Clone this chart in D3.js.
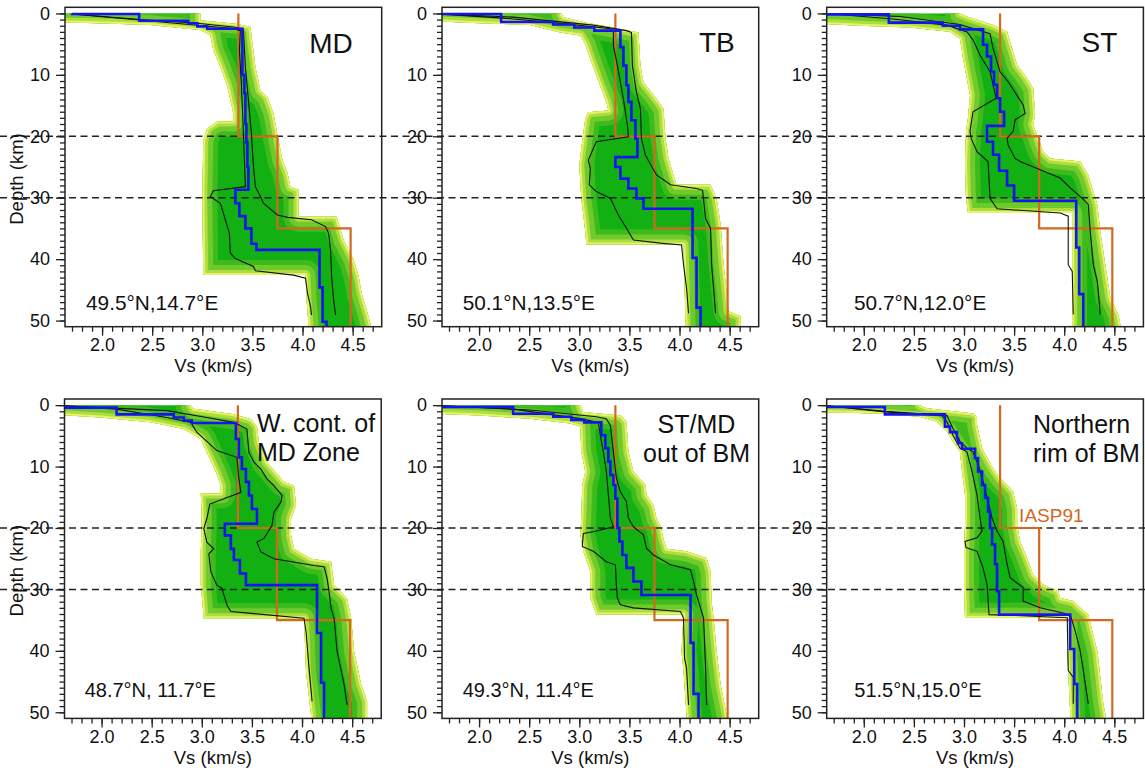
<!DOCTYPE html>
<html><head><meta charset="utf-8">
<script src="https://cdn.jsdelivr.net/npm/d3@7"></script>
<style>
body{margin:0;background:#fff}
svg{display:block}
text{font-family:"Liberation Sans",Arial,Helvetica,sans-serif;fill:#111}
</style>
</head><body>
<svg id="chart" width="1145" height="776"></svg>
<script>
// ---------------- DATA ----------------
// Panel names / titles
const panelTitles = [["MD"],["TB"],["ST"],["W. cont. of","MD Zone"],["ST/MD","out of BM"],["Northern","rim of BM"]];
const panelCoords = ["49.5°N,14.7°E","50.1°N,13.5°E","50.7°N,12.0°E","48.7°N, 11.7°E","49.3°N, 11.4°E","51.5°N,15.0°E"];

// Axis ticks
const vsMajorTicks = [2.0,2.5,3.0,3.5,4.0,4.5];
const vsMinorTicks = [1.7,1.8,1.9,2.0,2.1,2.2,2.3,2.4,2.5,2.6,2.7,2.8,2.9,3.0,3.1,3.2,3.3,3.4,3.5,3.6,3.7,3.8,3.9,4.0,4.1,4.2,4.3,4.4,4.5,4.6,4.7];
const depthMajorTicks = [0,10,20,30,40,50];
const depthMinorTicks = d3.range(0,51,1);
const markerDepths = [20,30];

// IASP91 reference model: [top depth, Vs]
const iasp91 = [[0,3.36],[20,3.75],[35,4.48]];

// Best model (blue), layers: [top depth km, Vs km/s]
const bestMD = [[0,1.70],[0.1,2.37],[1.2,2.86],[1.6,2.95],[2.1,3.05],[2.5,3.40],[10,3.42],[13,3.43],[18,3.44],[21,3.45],[25,3.46],[28.7,3.33],[30.9,3.37],[33,3.43],[35,3.49],[37.5,3.54],[38.5,4.17],[44.6,4.20],[50.2,4.24]];
const bestTB = [[0,1.63],[0.1,2.22],[1.4,2.74],[1.8,2.95],[2.3,3.15],[2.8,3.41],[5.5,3.44],[8.5,3.47],[11.7,3.49],[14.4,3.52],[17.4,3.56],[20.4,3.58],[23.4,3.36],[25,3.41],[26.9,3.49],[28.5,3.57],[30.1,3.64],[31.8,4.13],[39.8,4.17],[47.9,4.21]];
const bestST = [[0,1.63],[0.15,2.25],[1.5,2.79],[2.0,2.96],[2.6,3.19],[5.1,3.23],[7.0,3.27],[9.5,3.30],[11.6,3.33],[13.8,3.36],[16.0,3.40],[18.3,3.23],[20.9,3.29],[23.0,3.35],[25.6,3.43],[28.0,3.50],[30.5,4.12],[38.1,4.15],[45.7,4.19]];
const bestWC = [[0,1.63],[0.4,2.15],[1.5,2.72],[2.0,2.82],[2.5,2.90],[2.9,3.34],[5.5,3.37],[8.5,3.40],[10.4,3.44],[12.5,3.47],[14.7,3.50],[16.9,3.55],[19.3,3.23],[21.2,3.29],[23.4,3.32],[25.2,3.38],[27.4,3.44],[29.3,4.15],[37.1,4.19],[45.2,4.22]];
const bestSM = [[0,1.63],[0.3,2.34],[1.4,2.74],[1.9,2.92],[2.4,3.05],[2.8,3.22],[4.9,3.26],[7.0,3.29],[9.2,3.31],[11.4,3.34],[13.0,3.36],[15.2,3.38],[20.0,3.40],[22.2,3.43],[24.4,3.47],[26.5,3.54],[28.7,3.62],[30.9,4.11],[38.7,4.14],[47.0,4.19]];
const bestNR = [[0,1.63],[0.3,2.21],[1.5,2.81],[3.5,2.86],[4.4,2.93],[5.4,2.94],[6.2,2.98],[7.1,3.11],[8.6,3.14],[10.8,3.18],[13.0,3.21],[15.1,3.24],[17.3,3.26],[20.0,3.28],[22.7,3.31],[25.9,3.33],[30.3,3.35],[34.1,4.06],[39.7,4.10],[45.4,4.13]];

// Lower / upper bounds (black), points: [depth, Vs]
const lowMD = [[0.1,1.70],[1.08,2.37],[2.44,3.31],[2.82,3.38],[5.97,3.37],[11.4,3.39],[19.5,3.41],[28.2,3.43],[28.85,3.11],[29.8,3.08],[30.9,3.18],[32.5,3.21],[35.8,3.27],[39.0,3.28],[39.9,3.33],[41.2,3.51],[41.9,3.53],[42.6,3.91],[43.1,4.03],[45.6,4.05],[47.7,4.08],[49.1,4.09]];
const highMD = [[0.1,1.70],[0.98,2.38],[1.6,2.95],[2.2,3.31],[2.6,3.41],[8.7,3.43],[14.1,3.46],[19.5,3.49],[24.9,3.51],[28.2,3.53],[29.8,3.58],[30.9,3.61],[32.8,3.75],[33.2,3.85],[33.6,4.09],[34.7,4.23],[35.8,4.26],[38.5,4.28],[42.8,4.29],[46.6,4.31],[49.1,4.33]];
const lowTB = [[0.1,1.62],[0.8,2.27],[1.7,2.87],[2.5,3.31],[3.1,3.34],[5.2,3.34],[8.5,3.38],[13.9,3.44],[18.2,3.48],[20.1,3.49],[20.9,3.17],[23.1,3.11],[23.9,3.09],[25.2,3.11],[27.9,3.10],[29,3.17],[30.1,3.31],[32.8,3.39],[35.5,3.49],[36.9,3.54],[37.4,3.81],[37.7,4.02],[40.9,4.04],[44.7,4.07],[48.8,4.09]];
const highTB = [[0.1,1.62],[0.6,2.34],[1.9,3.14],[2.8,3.47],[3.1,3.52],[8.5,3.53],[12.8,3.57],[15.5,3.61],[20.4,3.62],[23.1,3.66],[26.3,3.77],[27.9,3.91],[28.5,4.17],[28.8,4.23],[33.4,4.26],[35,4.31],[40.9,4.32],[48.8,4.36]];
const lowST = [[0,1.63],[0.9,2.29],[1.9,2.83],[3.0,3.03],[4.3,3.09],[6.8,3.16],[9.5,3.26],[11.6,3.29],[13.8,3.32],[16.0,3.09],[19.2,3.06],[20.3,3.07],[22.5,3.13],[24.1,3.24],[30.1,3.26],[31.8,3.33],[32.5,3.96],[33.0,4.04],[40.9,4.04],[42,4.08],[49.0,4.09]];
const highST = [[0,1.63],[0.5,2.36],[1.8,2.96],[3.3,3.26],[5.7,3.29],[9.5,3.36],[11.1,3.44],[14.9,3.59],[16.3,3.61],[17.3,3.51],[19.2,3.49],[20.3,3.43],[21.4,3.44],[23.6,3.51],[24.1,3.56],[26.8,3.96],[28.4,4.06],[30.1,4.18],[31.1,4.24],[35.5,4.26],[40.9,4.29],[43.6,4.33],[49.0,4.36]];
const lowWC = [[0.1,1.63],[0.65,2.15],[2.0,2.65],[2.8,2.89],[4.4,2.95],[7.4,3.15],[8.5,3.35],[12,3.37],[14.2,3.39],[16.1,3.08],[18.5,3.05],[20.1,3.02],[22.3,3.05],[23.4,3.12],[24.2,3.07],[27.1,3.09],[29.3,3.15],[29.8,3.20],[32.5,3.25],[33.6,3.29],[33.9,3.49],[34.7,4.02],[36.9,4.04],[42.8,4.07],[48.2,4.10]];
const highWC = [[0.1,1.63],[0.9,2.65],[2.0,3.05],[2.8,3.32],[3.9,3.45],[7.7,3.47],[9.3,3.52],[10.4,3.59],[12,3.65],[13.1,3.72],[14.7,3.80],[15.8,3.79],[17.4,3.72],[19.6,3.70],[21.7,3.62],[22.3,3.55],[23.9,3.59],[25,3.72],[26.1,4.12],[26.3,4.22],[28.2,4.25],[30.4,4.27],[33.1,4.29],[34.7,4.32],[40.1,4.35],[45.5,4.42],[48.8,4.45]];
const lowSM = [[0.1,1.63],[0.65,2.34],[2.2,3.01],[2.8,3.19],[4.9,3.21],[7.6,3.24],[10.8,3.27],[14.6,3.29],[18.4,3.31],[19.8,3.34],[20.6,3.14],[20.9,3.04],[23,3.03],[23.8,3.14],[25.5,3.27],[26,3.36],[29.3,3.37],[31.4,3.38],[32.5,3.41],[33,3.54],[33.6,4.01],[34.7,4.04],[41.2,4.05],[42.8,4.07],[48.8,4.09]];
const highSM = [[0.1,1.63],[0.8,2.51],[1.9,3.17],[2.2,3.27],[3.3,3.31],[7.6,3.34],[11.9,3.37],[14.1,3.41],[15.7,3.47],[18.4,3.49],[19.8,3.54],[21.1,3.64],[23.3,3.67],[24.4,3.74],[26,3.91],[26.8,4.11],[28.7,4.14],[30.9,4.17],[33.6,4.22],[34.7,4.24],[42.8,4.26],[48.8,4.27]];
const lowNR = [[0.1,1.63],[1.1,2.21],[1.7,2.78],[2.7,2.83],[4.9,2.89],[7.0,2.96],[7.6,3.03],[10.8,3.08],[14.6,3.13],[18.4,3.16],[20.5,3.18],[21.6,3.13],[22.2,3.01],[23.2,3.02],[23.8,3.13],[26.5,3.19],[29.2,3.23],[34.1,3.25],[34.2,3.46],[34.6,4.03],[43.2,4.04],[44.3,4.09],[48.6,4.09]];
const highNR = [[0.1,1.63],[1.0,2.21],[1.7,2.83],[3.8,2.89],[5.9,2.96],[7.0,3.03],[7.6,3.09],[9.7,3.14],[12.4,3.19],[15.1,3.23],[18.4,3.28],[20.5,3.33],[22.2,3.39],[25.9,3.43],[28.1,3.46],[29.7,3.59],[31.9,3.59],[33,3.76],[34.1,4.06],[36.8,4.11],[40,4.16],[43.2,4.19],[48.6,4.24]];

// Ensemble envelope (green/yellow cloud): left and right edges, [depth, Vs]
const envLoMD = [[0,1.5],[1.4,1.5],[1.6,1.95],[1.9,2.48],[2.7,2.98],[3.5,3.08],[6.0,3.11],[8.7,3.18],[11.9,3.25],[14.1,3.28],[16.3,3.31],[17.6,3.31],[17.6,3.15],[18.7,3.05],[20.6,3.01],[30.4,3.00],[42.6,3.01],[42.6,4.03],[46.6,4.04],[50.7,4.06]];
const envHiMD = [[0,2.98],[1.1,2.98],[1.7,3.35],[2.2,3.48],[4.9,3.50],[8.7,3.53],[12.5,3.58],[13.6,3.65],[16.3,3.71],[20.6,3.76],[23.9,3.80],[26,3.85],[28.2,3.88],[28.7,3.96],[33.1,3.96],[33.1,4.34],[36.9,4.41],[40.1,4.51],[42.8,4.56],[45.6,4.59],[48.3,4.64],[50.7,4.68]];
const envLoTB = [[0,1.5],[1.2,1.5],[1.5,1.87],[1.9,2.51],[3.1,2.81],[3.6,3.01],[5,3.06],[7.4,3.11],[10.1,3.17],[12.3,3.22],[14.4,3.27],[15.8,3.29],[16.1,3.09],[17.1,3.06],[22,3.02],[24.7,3.00],[30.1,3.02],[35.5,3.06],[37.6,3.07],[37.6,4.04],[50.6,4.06]];
const envHiTB = [[0,2.82],[0.6,2.84],[1.5,3.07],[2.3,3.34],[3.1,3.59],[8.5,3.61],[11.2,3.64],[13.9,3.77],[15.5,3.84],[20.4,3.86],[23.6,3.89],[26.3,3.94],[27.9,3.97],[27.9,4.31],[30.1,4.37],[34.4,4.41],[40.9,4.44],[48.5,4.49],[49.3,4.61],[51.2,4.61]];
const envLoST = [[0,1.5],[1.6,1.5],[2.0,1.96],[2.3,2.46],[3.0,2.86],[4.1,2.96],[7.3,2.99],[11.6,3.04],[13.3,3.06],[17,3.04],[19.2,3.02],[24.6,3.01],[30.1,3.02],[32.5,3.04],[32.5,4.08],[50.6,4.08]];
const envHiST = [[0,2.96],[0.5,3.03],[1.9,3.29],[3.0,3.43],[5.7,3.48],[8.4,3.53],[10.6,3.63],[12.2,3.69],[16.5,3.71],[18.1,3.69],[20.3,3.74],[22.5,3.79],[23.6,3.86],[24.1,4.16],[26.3,4.24],[29,4.29],[31.1,4.33],[35.5,4.36],[40.9,4.41],[46.3,4.46],[49.0,4.54],[50.6,4.56]];
const envLoWC = [[0,1.5],[1.5,1.5],[2.0,1.99],[2.8,2.49],[3.9,2.82],[5.5,2.99],[7.7,3.05],[10.9,3.14],[13.1,3.19],[14.4,3.19],[14.4,2.99],[18.5,3.00],[23.9,2.99],[29.3,2.99],[34.7,3.02],[34.7,4.02],[43.4,4.04],[50.5,4.09]];
const envHiWC = [[0,2.89],[0.6,2.92],[1.5,3.32],[2.3,3.49],[3.4,3.55],[6.1,3.57],[9.3,3.65],[12.5,3.82],[13.1,3.92],[16.3,3.94],[18.5,3.89],[21.2,3.89],[23.4,3.92],[25.0,4.09],[25.5,4.29],[29.3,4.32],[31.5,4.45],[34.7,4.49],[40.1,4.52],[45.5,4.59],[48.2,4.65],[50.5,4.65]];
const envLoSM = [[0,1.5],[1.35,1.5],[1.7,2.01],[2.2,2.51],[3.0,2.91],[3.5,3.01],[7.6,3.02],[10.8,3.06],[13,3.03],[18.4,3.02],[21.1,3.01],[23.8,3.04],[27.1,3.11],[31.4,3.11],[34.1,3.17],[34.1,4.04],[40.1,4.02],[43.3,4.04],[50.4,4.07]];
const envHiSM = [[0,3.01],[1.1,3.04],[1.7,3.41],[2.7,3.47],[7.6,3.49],[10.8,3.54],[13,3.66],[14.6,3.67],[16.3,3.74],[18.4,3.77],[19.6,3.81],[21.8,3.84],[23.4,3.87],[23.8,4.07],[24.9,4.27],[27.1,4.31],[32,4.32],[34.7,4.34],[40.1,4.37],[45.5,4.41],[50.4,4.47]];
const envLoNR = [[0,1.5],[1.1,1.5],[1.35,2.13],[1.9,2.56],[2.7,2.73],[4.3,2.83],[5.9,2.89],[7.6,2.96],[10.8,2.98],[14.6,3.01],[19.5,3.01],[23.8,3.00],[29.2,3.00],[34.6,3.01],[34.6,4.03],[40,4.03],[50.3,4.06]];
const envHiNR = [[0,2.56],[0.5,2.63],[1.1,2.96],[1.35,3.09],[1.9,3.13],[3.2,3.13],[7.0,3.18],[10.3,3.29],[11.9,3.36],[13,3.43],[14.1,3.49],[16.8,3.53],[19.5,3.53],[22.2,3.56],[24.9,3.63],[27.6,3.69],[29.2,3.79],[30.3,3.94],[31.4,3.96],[31.9,4.09],[33,4.16],[34.1,4.24],[36.8,4.28],[40,4.33],[44.3,4.36],[48.6,4.39],[50.3,4.41]];

// ---------------- LAYOUT / STYLE ----------------
const W = 316.7, H = 319.4;
const panelLayout = [
  {x:65,    y:7.3, title:{anchor:"end",   x:W-29,  y:46, size:28, dy:0},     coord:{x:21,   y:303.2, size:20.8}},
  {x:442,   y:7.3, title:{anchor:"end",   x:W-24,  y:45, size:28, dy:0},     coord:{x:20.7, y:303.2, size:20.8}},
  {x:826.7, y:7.3, title:{anchor:"end",   x:W-26,  y:45, size:28, dy:0},     coord:{x:27.3, y:303.2, size:20.8}},
  {x:64.5,  y:399, title:{anchor:"start", x:192.5, y:32.7, size:25, dy:29.3},coord:{x:20.2, y:297.7, size:20}},
  {x:442,   y:399, title:{anchor:"middle",x:254.5, y:34.3, size:25, dy:28.4},coord:{x:20.7, y:297.7, size:20}},
  {x:826.7, y:399, title:{anchor:"start", x:206.3, y:34.3, size:25, dy:28.4},coord:{x:27.6, y:297.7, size:20}}
];
const panelData = [
  {best:bestMD, low:lowMD, high:highMD, envL:envLoMD, envR:envHiMD},
  {best:bestTB, low:lowTB, high:highTB, envL:envLoTB, envR:envHiTB},
  {best:bestST, low:lowST, high:highST, envL:envLoST, envR:envHiST},
  {best:bestWC, low:lowWC, high:highWC, envL:envLoWC, envR:envHiWC},
  {best:bestSM, low:lowSM, high:highSM, envL:envLoSM, envR:envHiSM},
  {best:bestNR, low:lowNR, high:highNR, envL:envLoNR, envR:envHiNR}
];
const COL = {core:"#12b012", band0:"#3dbb1c", band1:"#6fcb2c", band2:"#addd3e", band3:"#e8f26c",
             blue:"#1414f0", black:"#111", orange:"#d2691e", axis:"#222"};

const x = d3.scaleLinear().domain([1.63,4.79]).range([0,W]);
const y = d3.scaleLinear().domain([-1,51]).range([0,H]);

const svg = d3.select("#chart");
const defs = svg.append("defs");
const line = d3.line();

function stepPts(layers, endDepth){
  const pts = [];
  layers.forEach((l,i)=>{
    const bottom = i < layers.length-1 ? layers[i+1][0] : endDepth;
    pts.push([x(l[1]), y(l[0])]);
    pts.push([x(l[1]), y(bottom)]);
  });
  return pts;
}
function polyPts(arr){ return arr.map(([d,v])=>[x(v), y(d)]); }

// -------- pass 1: envelopes --------
panelLayout.forEach((L,i)=>{
  const P = panelData[i];
  const g = svg.append("g").attr("transform",`translate(${L.x},${L.y})`);
  defs.append("clipPath").attr("id",`plot-${i}`)
    .append("rect").attr("x",0).attr("y",0).attr("width",W).attr("height",H);
  defs.append("clipPath").attr("id",`plot0-${i}`)
    .append("rect").attr("x",0).attr("y",y(0)).attr("width",W).attr("height",H-y(0));
  // envelope polygon (extended past the top and bottom so the edge shading applies to the sides only)
  const Lp = polyPts(P.envL), Rp = polyPts(P.envR);
  const ext = 25;
  const pts = [[Lp[0][0], Lp[0][1]-ext], ...Lp, [Lp[Lp.length-1][0], Lp[Lp.length-1][1]+ext],
               [Rp[Rp.length-1][0], Rp[Rp.length-1][1]+ext], ...Rp.slice().reverse(), [Rp[0][0], Rp[0][1]-ext]];
  const dPath = line(pts) + "Z";
  defs.append("clipPath").attr("id",`env-${i}`).append("path").attr("d",dPath);
  const eg = g.append("g").attr("clip-path",`url(#plot0-${i})`)
              .append("g").attr("clip-path",`url(#env-${i})`);
  eg.append("path").attr("d",dPath).attr("fill",COL.core);
  [[30,COL.band0],[20,COL.band1],[10,COL.band2],[4,COL.band3]].forEach(([w,c])=>{
    eg.append("path").attr("d",dPath).attr("fill","none").attr("stroke",c)
      .attr("stroke-width",w).attr("stroke-linejoin","round");
  });
});

// -------- dashed marker lines across the rows --------
[7.3, 399].forEach(rowY=>{
  markerDepths.forEach(d=>{
    svg.append("line").attr("x1",0).attr("x2",1145)
      .attr("y1",rowY+y(d)).attr("y2",rowY+y(d))
      .attr("stroke","#222").attr("stroke-width",1.5).attr("stroke-dasharray","7,4.5");
  });
});

// -------- pass 2: lines, axes, text --------
panelLayout.forEach((L,i)=>{
  const P = panelData[i];
  const g = svg.append("g").attr("transform",`translate(${L.x},${L.y})`);
  const lg = g.append("g").attr("clip-path",`url(#plot-${i})`);
  lg.append("path").attr("d",line(stepPts(iasp91, 51.5))).attr("fill","none")
    .attr("stroke",COL.orange).attr("stroke-width",2.2);
  [P.low, P.high].forEach(b=>{
    lg.append("path").attr("d",line(polyPts(b))).attr("fill","none")
      .attr("stroke",COL.black).attr("stroke-width",1.1);
  });
  lg.append("path").attr("d",line(stepPts(P.best, 51.5))).attr("fill","none")
    .attr("stroke",COL.blue).attr("stroke-width",2.6);

  // axes
  const xMinor = d3.axisBottom(x).tickValues(vsMinorTicks).tickSize(5).tickFormat("");
  const xMajor = d3.axisBottom(x).tickValues(vsMajorTicks).tickSize(9).tickPadding(3).tickFormat(d3.format(".1f"));
  const yMinor = d3.axisLeft(y).tickValues(depthMinorTicks).tickSize(5).tickFormat("");
  const yMajor = d3.axisLeft(y).tickValues(depthMajorTicks).tickSize(9).tickPadding(6).tickFormat(d3.format("d"));
  [xMinor, xMajor].forEach(a=>{
    const ag = g.append("g").attr("transform",`translate(0,${H})`).call(a);
    ag.select(".domain").remove();
    ag.selectAll("line").attr("stroke",COL.axis).attr("stroke-width",1.3);
    ag.selectAll("text").attr("font-size",18).attr("font-family",null).attr("fill","#111");
  });
  [yMinor, yMajor].forEach(a=>{
    const ag = g.append("g").call(a);
    ag.select(".domain").remove();
    ag.selectAll("line").attr("stroke",COL.axis).attr("stroke-width",1.3);
    ag.selectAll("text").attr("font-size",18).attr("font-family",null).attr("fill","#111");
  });
  g.append("rect").attr("x",0).attr("y",0).attr("width",W).attr("height",H)
    .attr("fill","none").attr("stroke",COL.axis).attr("stroke-width",1.5);

  // titles
  const t = L.title;
  panelTitles[i].forEach((s,k)=>{
    g.append("text").attr("x",t.x).attr("y",t.y + k*t.dy).attr("text-anchor",t.anchor)
      .attr("font-size",t.size).text(s);
  });
  g.append("text").attr("x",L.coord.x).attr("y",L.coord.y).attr("font-size",L.coord.size).text(panelCoords[i]);
  g.append("text").attr("x",W/2-10).attr("y",H+45.5).attr("text-anchor","middle").attr("font-size",18.5).text("Vs (km/s)");
  if (i % 3 === 0) {
    svg.append("text").attr("transform",`translate(23,${L.y + H/2 + 12}) rotate(-90)`)
      .attr("text-anchor","middle").attr("font-size",18.5).text("Depth (km)");
  }
  if (i === 5) {
    g.append("text").attr("x",x(3.55)).attr("y",y(18.95)).attr("font-size",19)
      .style("fill",COL.orange).text("IASP91");
  }
});
</script>
</body></html>
